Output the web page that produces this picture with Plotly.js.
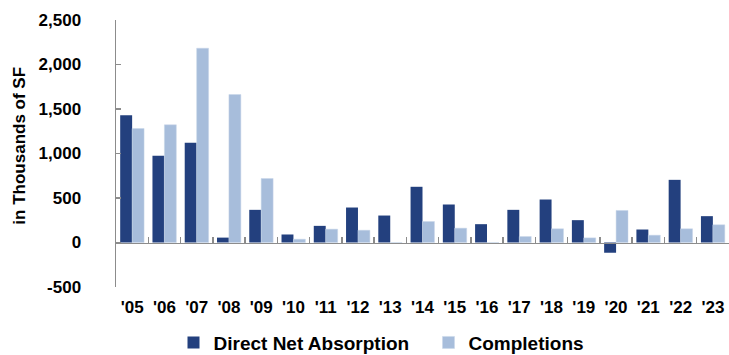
<!DOCTYPE html>
<html>
<head>
<meta charset="utf-8">
<script src="https://cdn.plot.ly/plotly-3.0.1.min.js"></script>
<style>
  html, body { margin: 0; padding: 0; background: #fff; }
  #chart { width: 729px; height: 355px; }
</style>
</head>
<body>
<div id="chart"></div>
<script>
// Annual absorption vs. new supply, thousands of square feet
const years = ["'05", "'06", "'07", "'08", "'09", "'10", "'11", "'12", "'13", "'14",
               "'15", "'16", "'17", "'18", "'19", "'20", "'21", "'22", "'23"];
const directNetAbsorption = [1430, 975, 1120, 55, 367, 90, 187, 393, 303, 626,
                             427, 206, 367, 483, 251, -115, 146, 704, 296];
const completions = [1281, 1322, 2183, 1663, 719, 37, 150, 138, 0, 236,
                     161, 0, 67, 154, 52, 360, 82, 154, 199];
const yTicks = [-500, 0, 500, 1000, 1500, 2000, 2500];
// plain hyphen for negatives, comma thousands separator
const yTickText = yTicks.map(v => v.toLocaleString('en-US'));

const DARK = '#23407e';
const LIGHT = '#a7bddb';
const AXIS = '#8c8c8c';
const FONT = 'Liberation Sans, Arial, sans-serif';

const traces = [
  {
    type: 'bar', name: 'Direct Net Absorption',
    x: years, y: directNetAbsorption,
    marker: { color: DARK }
  },
  {
    type: 'bar', name: 'Completions',
    x: years, y: completions,
    marker: { color: LIGHT, line: { color: '#c9d6e8', width: 0.5 } }
  },
  {
    // carrier for the zero-line axis with its category boundary ticks
    type: 'scatter', mode: 'markers', xaxis: 'x2', yaxis: 'y',
    x: years, y: years.map(() => null),
    showlegend: false, hoverinfo: 'skip'
  }
];

const layout = {
  width: 729, height: 355,
  margin: { l: 116, r: 0, t: 20, b: 68, autoexpand: false },
  paper_bgcolor: '#fff', plot_bgcolor: '#fff',
  font: { family: FONT, color: '#000' },
  barmode: 'group', bargap: 0.26, bargroupgap: 0,
  showlegend: true,
  legend: {
    orientation: 'h', xref: 'container', yref: 'paper',
    x: 0.238, xanchor: 'left', y: -0.137, yanchor: 'top',
    font: { family: FONT, size: 19, color: '#000', weight: 'bold' },
    entrywidth: 210, entrywidthmode: 'pixels',
    itemclick: false, itemdoubleclick: false
  },
  xaxis: {
    type: 'category', categoryarray: years, range: [-0.5, 18.5],
    showline: false, ticks: '', showgrid: false, zeroline: false,
    tickfont: { family: FONT, size: 17, color: '#000', weight: 'bold' },
    ticklabelstandoff: 8, fixedrange: true
  },
  xaxis2: {
    type: 'category', categoryarray: years, range: [-0.5, 18.5],
    overlaying: 'x', anchor: 'free', position: 1 / 6,
    showline: true, linecolor: AXIS, linewidth: 1.5,
    ticks: 'inside', tickson: 'boundaries', ticklen: 6, tickwidth: 1.5, tickcolor: AXIS,
    showticklabels: false, showgrid: false, zeroline: false, fixedrange: true
  },
  yaxis: {
    range: [-500, 2500], tickmode: 'array', tickvals: yTicks, ticktext: yTickText,
    showline: true, linecolor: AXIS, linewidth: 1.5,
    ticks: 'inside', ticklen: 5, tickwidth: 1.5, tickcolor: AXIS,
    showgrid: false, zeroline: false,
    tickfont: { family: FONT, size: 17, color: '#000', weight: 'bold' },
    ticklabelstandoff: 30, fixedrange: true
  },
  annotations: [{
    text: 'in Thousands of SF', textangle: -90,
    xref: 'paper', yref: 'paper', x: -0.158, y: 0.53,
    xanchor: 'center', yanchor: 'middle', showarrow: false,
    font: { family: FONT, size: 17, color: '#000', weight: 'bold' }
  }]
};

Plotly.newPlot('chart', traces, layout, { displayModeBar: false, staticPlot: true });
</script>
</body>
</html>
